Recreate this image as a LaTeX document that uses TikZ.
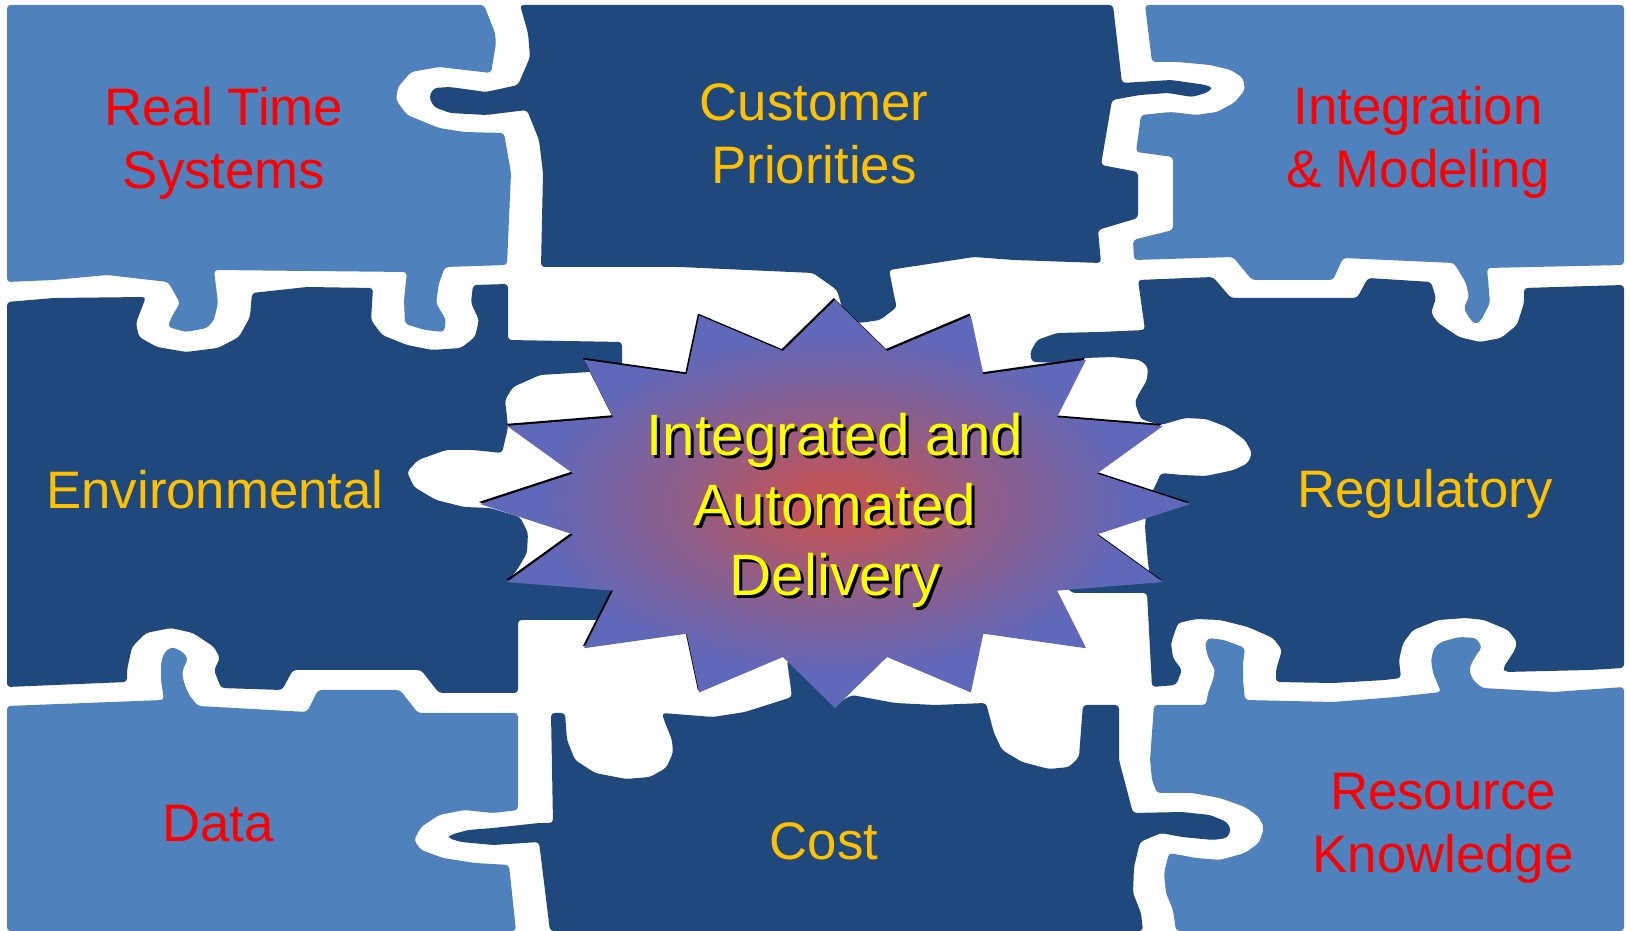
\documentclass[tikz,border=0pt]{standalone}
\usepackage{fontspec}
\setmainfont{Liberation Sans}
\usetikzlibrary{shadows}

\definecolor{piecelight}{RGB}{79,129,189}
\definecolor{piecedark}{RGB}{31,73,125}
\definecolor{tagred}{RGB}{255,0,0}
\definecolor{taggold}{RGB}{255,192,0}
\definecolor{hubyellow}{RGB}{255,255,0}
\definecolor{glowred}{RGB}{190,84,90}
\definecolor{glowblue}{RGB}{96,104,186}

\pgfdeclareradialshading{starglow}{\pgfpoint{0bp}{0bp}}{%
  color(0bp)=(glowred); color(3bp)=(glowred);
  color(11bp)=(glowred!50!glowblue); color(21bp)=(glowblue);
  color(50bp)=(glowblue)}

\begin{document}
\begin{tikzpicture}[
    x=0.01cm, y=-0.01cm,
    lightpiece/.style={fill=piecelight, rounded corners=1pt},
    darkpiece/.style={fill=piecedark, rounded corners=1pt},
    piecetag/.style={align=center, font=\fontsize{15pt}{17.9pt}\selectfont},
    redtag/.style={piecetag, text=tagred},
    goldtag/.style={piecetag, text=taggold},
    hubtext/.style={align=center, font=\fontsize{16.6pt}{19.9pt}\selectfont},
    burst/.style={shading=starglow,
                  drop shadow={shadow xshift=-0.12mm, shadow yshift=0.2mm, opacity=1, fill=black}}
]

% Page
\useasboundingbox (0,0) rectangle (1630,931);
\fill[white] (0,0) rectangle (1630,931);

% Top row
\fill[lightpiece] (7,5) -- (484,5) -- (495,33) -- (496,43) -- (491,73) -- (439,67) -- (411,72)
    -- (398,87) -- (396,100) -- (407,115) -- (439,128) -- (464,132) -- (504,133) -- (511,173)
    -- (507,265) -- (445,267) -- (439,283) -- (436,303) -- (446,320) -- (444,332) -- (425,330)
    -- (405,324) -- (404,300) -- (407,272) -- (214,270) -- (218,303) -- (214,320) -- (207,328)
    -- (186,332) -- (168,327) -- (171,318) -- (180,303) -- (171,287) -- (168,282) -- (107,275)
    -- (54,280) -- (7,282) -- cycle;
\fill[darkpiece] (520,5) -- (1113,5) -- (1122,83) -- (1171,80) -- (1206,85) -- (1213,88)
    -- (1206,93) -- (1192,97) -- (1168,93) -- (1140,95) -- (1112,100) -- (1101,165) -- (1138,172)
    -- (1138,218) -- (1098,230) -- (1101,263) -- (1014,260) -- (974,257) -- (935,263) -- (889,270)
    -- (895,300) -- (897,307) -- (880,320) -- (860,323) -- (845,318) -- (837,290) -- (813,273)
    -- (680,267) -- (541,267) -- (543,173) -- (539,140) -- (527,110) -- (486,115) -- (450,113)
    -- (434,107) -- (429,97) -- (434,88) -- (450,87) -- (486,92) -- (518,85) -- (530,57)
    -- (528,33) -- cycle;
\fill[lightpiece] (1145,5) -- (1624,5) -- (1624,265) -- (1487,268) -- (1490,303) -- (1480,322)
    -- (1474,324) -- (1466,313) -- (1464,307) -- (1469,297) -- (1466,283) -- (1454,263)
    -- (1343,258) -- (1333,280) -- (1252,280) -- (1233,257) -- (1134,260) -- (1133,240)
    -- (1173,230) -- (1173,157) -- (1136,152) -- (1141,115) -- (1171,112) -- (1196,115)
    -- (1217,112) -- (1234,103) -- (1245,90) -- (1243,78) -- (1231,70) -- (1210,65) -- (1178,62)
    -- (1152,62) -- cycle;

% Middle row
\fill[darkpiece] (7,302) -- (54,298) -- (146,297) -- (136,323) -- (139,337) -- (157,347)
    -- (186,352) -- (218,348) -- (239,337) -- (250,317) -- (252,293) -- (307,287) -- (373,288)
    -- (371,320) -- (382,335) -- (407,345) -- (432,350) -- (461,348) -- (475,337) -- (479,320)
    -- (471,303) -- (473,285) -- (508,284) -- (508,340) -- (622,342) -- (622,372) -- (590,372)
    -- (540,375) -- (513,387) -- (505,400) -- (507,417) -- (508,428) -- (502,453) -- (473,450)
    -- (446,450) -- (418,460) -- (407,472) -- (414,487) -- (436,500) -- (464,507) -- (490,508)
    -- (520,517) -- (528,533) -- (527,553) -- (517,570) -- (509,580) -- (630,578) -- (630,620)
    -- (518,620) -- (518,693) -- (439,693) -- (421,670) -- (293,670) -- (282,690) -- (221,688)
    -- (214,670) -- (220,658) -- (214,647) -- (193,633) -- (171,628) -- (146,633) -- (132,647)
    -- (127,670) -- (127,682) -- (7,687) -- cycle;
\fill[darkpiece] (1138,280) -- (1213,277) -- (1231,298) -- (1357,298) -- (1368,278) -- (1431,282)
    -- (1436,298) -- (1431,313) -- (1438,323) -- (1459,337) -- (1480,342) -- (1501,338)
    -- (1517,325) -- (1524,303) -- (1524,288) -- (1624,285) -- (1624,668) -- (1589,670)
    -- (1505,672) -- (1503,668) -- (1515,650) -- (1517,642) -- (1508,630) -- (1484,620)
    -- (1466,618) -- (1438,620) -- (1413,630) -- (1403,643) -- (1399,660) -- (1401,678)
    -- (1385,680) -- (1333,683) -- (1276,682) -- (1276,670) -- (1282,650) -- (1273,638)
    -- (1248,627) -- (1220,620) -- (1196,619) -- (1178,623) -- (1171,643) -- (1173,658)
    -- (1182,670) -- (1176,685) -- (1152,687) -- (1147,593) -- (1072,593) -- (1060,580)
    -- (1150,576) -- (1148,563) -- (1145,527) -- (1147,503) -- (1157,482) -- (1161,473)
    -- (1182,475) -- (1206,476) -- (1234,470) -- (1248,463) -- (1252,453) -- (1245,440)
    -- (1227,427) -- (1206,419) -- (1185,418) -- (1161,425) -- (1143,420) -- (1140,417)
    -- (1135,403) -- (1137,397) -- (1147,380) -- (1148,367) -- (1140,360) -- (1113,357)
    -- (1085,358) -- (1060,363) -- (1032,362) -- (1030,353) -- (1037,340) -- (1057,333)
    -- (1100,332) -- (1145,330) -- cycle;

% Bottom row
\fill[lightpiece] (7,706) -- (164,700) -- (161,680) -- (161,663) -- (164,653) -- (171,647)
    -- (180,650) -- (188,658) -- (182,672) -- (184,683) -- (189,695) -- (198,706) -- (307,712)
    -- (318,690) -- (400,690) -- (418,713) -- (518,713) -- (518,810) -- (493,813) -- (464,810)
    -- (439,815) -- (421,827) -- (414,840) -- (421,850) -- (443,858) -- (475,863) -- (509,865)
    -- (516,931) -- (7,931) -- cycle;
\fill[darkpiece] (551,713) -- (565,713) -- (567,740) -- (575,760) -- (595,773) -- (626,779)
    -- (650,777) -- (666,768) -- (673,753) -- (672,740) -- (664,720) -- (662,713) -- (713,717)
    -- (745,712) -- (792,697) -- (787,660) -- (834,705) -- (852,695) -- (895,703) -- (935,705)
    -- (986,703) -- (994,733) -- (1002,750) -- (1022,762) -- (1049,769) -- (1069,767)
    -- (1079,757) -- (1081,730) -- (1083,705) -- (1119,705) -- (1119,760) -- (1133,813)
    -- (1182,812) -- (1210,815) -- (1227,822) -- (1231,830) -- (1227,838) -- (1213,840)
    -- (1182,837) -- (1161,833) -- (1140,842) -- (1134,867) -- (1133,893) -- (1141,913)
    -- (1143,931) -- (550,931) -- (539,842) -- (493,845) -- (461,842) -- (448,838) -- (450,835)
    -- (468,830) -- (493,828) -- (539,823) -- (553,823) -- cycle;
\fill[lightpiece] (1154,705) -- (1206,705) -- (1208,693) -- (1213,680) -- (1215,670) -- (1208,657)
    -- (1205,645) -- (1208,638) -- (1224,640) -- (1245,648) -- (1243,663) -- (1243,680)
    -- (1245,700) -- (1333,702) -- (1396,697) -- (1441,692) -- (1433,673) -- (1431,660)
    -- (1434,648) -- (1441,642) -- (1459,637) -- (1476,638) -- (1482,647) -- (1473,660)
    -- (1469,670) -- (1473,680) -- (1482,688) -- (1554,692) -- (1624,687) -- (1624,931)
    -- (1176,931) -- (1173,910) -- (1166,893) -- (1164,873) -- (1169,853) -- (1196,858)
    -- (1220,860) -- (1245,853) -- (1259,843) -- (1264,828) -- (1259,817) -- (1245,807)
    -- (1220,798) -- (1192,793) -- (1157,793) -- (1152,780) -- (1150,760) -- cycle;

% Starburst in the gap
\begin{scope}[shift={(835,504)}]
    \shade[burst] (0:355 and 204)
        \foreach \k in {0,...,15} { -- (\k*22.5+11.25:267 and 156) -- (\k*22.5+22.5:355 and 204) }
        -- cycle;
\end{scope}

% Labels
\node[redtag] (realtime) at (224,143) {Real Time\\Systems};
\node[goldtag] (customer) at (814,134) {Customer\\Priorities};
\node[redtag] (integration) at (1418,142) {Integration\\\& Modeling};
\node[goldtag] (environment) at (215,490) {Environmental};
\node[goldtag] (regulatory) at (1425,494) {Regulatory};
\node[redtag] (data) at (218,824) {Data};
\node[goldtag] (cost) at (824,841) {Cost};
\node[redtag] (resource) at (1443,828) {Resource\\Knowledge};

\node[hubtext, text=black] (hubshadow) at (838,513) {Integrated and\\Automated\\Delivery};
\node[hubtext, text=hubyellow] (hub) at (835,510) {Integrated and\\Automated\\Delivery};

\end{tikzpicture}
\end{document}
